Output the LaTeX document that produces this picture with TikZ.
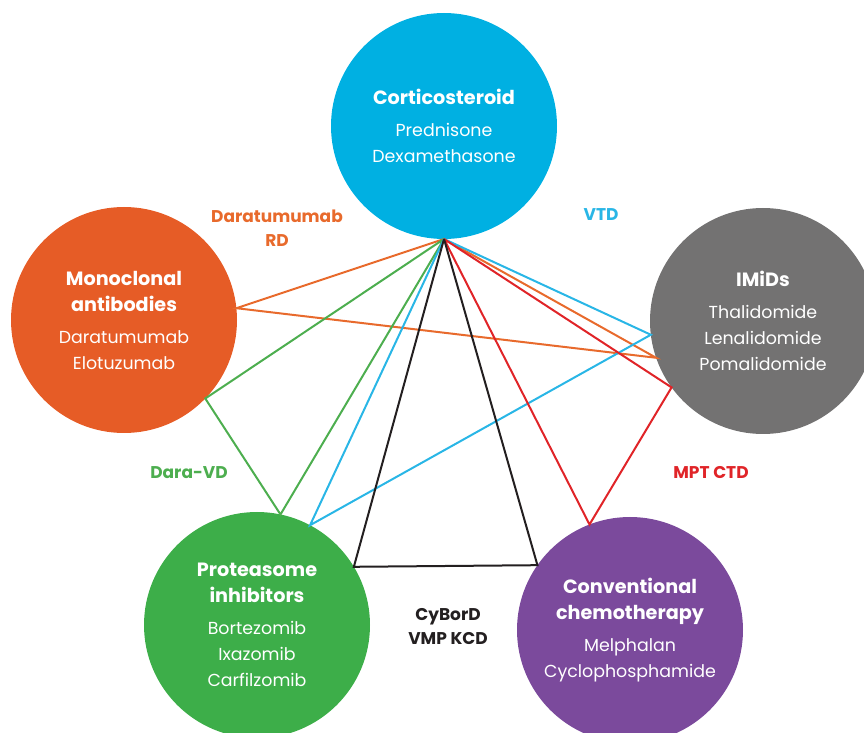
\documentclass[tikz,border=0pt]{standalone}
\usepackage{fontspec}
\setmainfont{Poppins}
\usetikzlibrary{calc}

\definecolor{cortblue}{RGB}{0,176,226}
\definecolor{mabred}{RGB}{230,92,38}
\definecolor{imidgrey}{RGB}{115,114,114}
\definecolor{pigreen}{RGB}{61,174,73}
\definecolor{chemopurple}{RGB}{123,74,156}
\definecolor{rdline}{RGB}{232,106,44}
\definecolor{daraline}{RGB}{77,174,79}
\definecolor{vtdline}{RGB}{41,182,230}
\definecolor{mptline}{RGB}{224,36,40}
\definecolor{kcdline}{RGB}{35,31,32}

\newcommand{\classname}[1]{{\fontsize{9.6}{13}\selectfont\bfseries #1}}

\begin{document}
\begin{tikzpicture}[x=0.5pt, y=-0.5pt,
    every node/.style={align=center, text=white, font=\fontsize{8.7}{13}\selectfont},
    drug/.style={circle, minimum size=113pt, inner sep=0pt, outer sep=0pt},
    combo/.style={font=\fontsize{8.5}{12}\selectfont\bfseries},
    link/.style={line width=1pt}]
    \useasboundingbox (0,0) rectangle (864,733);
    \clip (0,0) rectangle (864,733);
                % drug classes
                \node[drug, fill=cortblue] (cort) at (444,126) {\classname{Corticosteroid}\\[3pt]Prednisone\\Dexamethasone};
                \node[drug, fill=mabred] (mab) at (124,320) {\classname{Monoclonal}\\\classname{antibodies}\\[3pt]Daratumumab\\Elotuzumab};
                \node[drug, fill=imidgrey] (imid) at (763,321) {\classname{IMiDs}\\[3pt]Thalidomide\\Lenalidomide\\Pomalidomide};
                \node[drug, fill=pigreen] (pi) at (257,625) {\classname{Proteasome}\\\classname{inhibitors}\\[3pt]Bortezomib\\Ixazomib\\Carfilzomib};
                \node[drug, fill=chemopurple] (chemo) at (630,630) {\classname{Conventional}\\\classname{chemotherapy}\\[3pt]Melphalan\\Cyclophosphamide};
                % combinations
                \foreach \first/\second/\col in {mab.6/imid.199/rdline, mab.-44/pi.78/daraline,
                    pi.62/imid.187/vtdline, imid.216/chemo.111/mptline, pi.31/chemo.145/kcdline} {
                    \draw[link, \col] (cort.south) -- (\first) -- (\second) -- (cort.south);
                }
                \node[combo, text=rdline] (rdlabel) at (277,228) {Daratumumab\\RD};
                \node[combo, text=vtdline] (vtdlabel) at (601,215) {VTD};
                \node[combo, text=daraline] (daralabel) at (189,473) {Dara-VD};
                \node[combo, text=mptline] (mptlabel) at (711,473) {MPT CTD};
                \node[combo, text=kcdline] (kcdlabel) at (448,627) {CyBorD\\VMP KCD};
            \end{tikzpicture}
\end{document}
